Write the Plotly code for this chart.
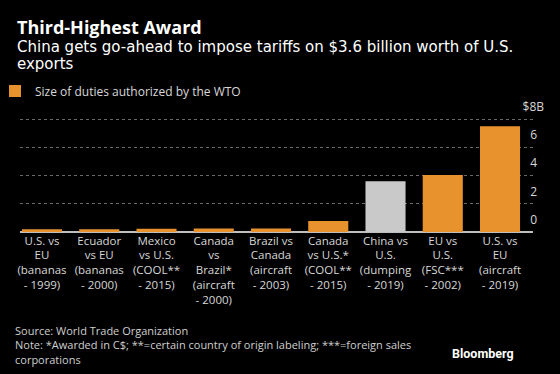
import plotly.graph_objects as go

categories = [
    "U.S. vs<br>EU<br>(bananas<br>- 1999)",
    "Ecuador<br>vs EU<br>(bananas<br>- 2000)",
    "Mexico<br>vs U.S.<br>(COOL**<br>- 2015)",
    "Canada<br>vs<br>Brazil*<br>(aircraft<br>- 2000)",
    "Brazil vs<br>Canada<br>(aircraft<br>- 2003)",
    "Canada<br>vs U.S.*<br>(COOL**<br>- 2015)",
    "China vs<br>U.S.<br>(dumping<br>- 2019)",
    "EU vs<br>U.S.<br>(FSC***<br>- 2002)",
    "U.S. vs<br>EU<br>(aircraft<br>- 2019)",
]
values = [0.19, 0.20, 0.23, 0.25, 0.25, 0.78, 3.6, 4.04, 7.5]
highlight = [False, False, False, False, False, False, True, False, False]
y_ticks = [0, 2, 4, 6, 8]
y_tick_labels = ["0\u2007", "2\u2007", "4\u2007", "6\u2007", "$8B"]
series_name = "Size of duties authorized by the WTO"

ORANGE = "#E8922E"
GREY = "#C9C9C9"
colors = [GREY if h else ORANGE for h in highlight]

FONT = "Open Sans"
W, H = 560, 374
L, R, T, B = 20, 27, 90, 136
PW, PH = W - L - R, H - T - B
BASE = 232  # pixel row of value 0
Y0 = -(H - B - BASE) / 14.09
Y1 = (BASE - T) / 14.09


def px(x):
    return (x - L) / PW


def py(y):
    return (H - B - y) / PH


fig = go.Figure()
fig.add_trace(go.Bar(
    x=list(range(len(categories))), y=values,
    marker=dict(color=colors, line=dict(width=0)),
    showlegend=True, name=series_name,
))

fig.update_layout(
    width=W, height=H,
    paper_bgcolor="#000000", plot_bgcolor="#000000",
    margin=dict(l=L, r=R, t=T, b=B, autoexpand=False),
    bargap=0.3,
    font=dict(family=FONT, color="#d8d8d8", size=12),
    showlegend=True,
    legend=dict(
        xref="container", yref="container", x=0.0, y=1 - 91 / H,
        xanchor="left", yanchor="middle", bgcolor="rgba(0,0,0,0)",
        indentation=-5,
        font=dict(size=12, color="#d8d8d8", family=FONT),
        itemclick=False, itemdoubleclick=False,
    ),
    xaxis=dict(
        range=[-0.384, 8.576], tickmode="array",
        tickvals=list(range(len(categories))), ticktext=categories,
        showgrid=False, zeroline=False, showline=False, ticks="",
        ticklabelstandoff=-6,
        tickfont=dict(size=11.5, color="#d8d8d8", family=FONT),
        automargin=False, fixedrange=True,
    ),
    yaxis=dict(
        range=[Y0, Y1], side="right", tickmode="array",
        tickvals=y_ticks, ticktext=y_tick_labels,
        ticklabelposition="inside top", ticklabelstandoff=-14,
        ticklabelshift=-4,
        showgrid=True, gridcolor="#6a6a6a", griddash="dot", gridwidth=1,
        zeroline=True, zerolinecolor="#bfbfbf", zerolinewidth=1.5,
        showline=False, ticks="",
        tickfont=dict(size=12, color="#d8d8d8", family=FONT),
        automargin=False, fixedrange=True,
    ),
    annotations=[
        dict(text="<b>Third-Highest Award</b>", xref="paper", yref="paper",
             x=px(15), y=py(27), xanchor="left", yanchor="middle",
             showarrow=False, font=dict(size=18, color="#ffffff", family=FONT)),
        dict(text="China gets go-ahead to impose tariffs on $3.6 billion worth of U.S.",
             xref="paper", yref="paper", x=px(15), y=py(46.5),
             xanchor="left", yanchor="middle", showarrow=False,
             font=dict(size=15, color="#ffffff", family="DejaVu Sans")),
        dict(text="exports",
             xref="paper", yref="paper", x=px(15), y=py(63.5),
             xanchor="left", yanchor="middle", showarrow=False,
             font=dict(size=15, color="#ffffff", family="DejaVu Sans")),
        dict(text="Source: World Trade Organization<br>Note: *Awarded in C$; **=certain country of origin labeling; ***=foreign sales<br>corporations",
             xref="paper", yref="paper", x=px(13), y=py(345),
             xanchor="left", yanchor="middle", align="left", showarrow=False,
             font=dict(size=11, color="#cfcfcf", family=FONT)),
        dict(text="<b>Bloomberg</b>", xref="paper", yref="paper",
             x=px(516), y=py(353), xanchor="right", yanchor="middle",
             showarrow=False, font=dict(size=12.5, color="#ffffff", family="Roboto")),
    ],
)

fig.write_html(
    "out.html",
    config={"displayModeBar": False, "staticPlot": True},
    post_script="document.body.style.margin='0';document.body.style.background='#000';",
)
